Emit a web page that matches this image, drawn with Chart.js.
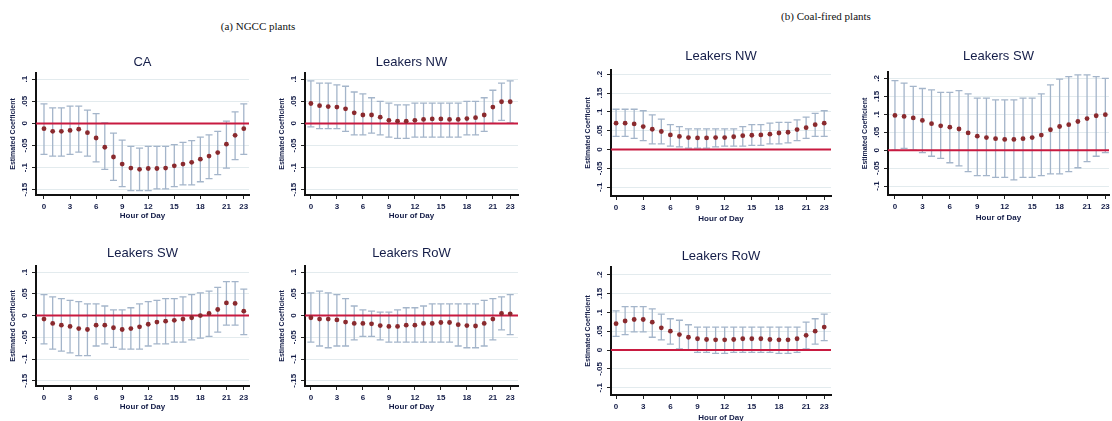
<!DOCTYPE html>
<html>
<head>
<meta charset="utf-8">
<script src="https://cdn.jsdelivr.net/npm/chart.js@4.4.0/dist/chart.umd.min.js"></script>
<style>
  body { margin: 0; width: 1112px; height: 421px; overflow: hidden; background: #fff; position: relative; }
  canvas { position: absolute; }
  .sup { position: absolute; font-family: "Liberation Serif", "DejaVu Serif", serif; font-size: 11px; color: #111; white-space: nowrap; transform: translate(-50%, -50%); }
</style>
</head>
<body>
<div class="sup" style="left:258px; top:26px">(a) NGCC plants</div>
<div class="sup" style="left:826px; top:16px">(b) Coal-fired plants</div>

<canvas id="caChart"></canvas>
<canvas id="nwChart"></canvas>
<canvas id="swChart"></canvas>
<canvas id="rowChart"></canvas>
<canvas id="coalNwChart"></canvas>
<canvas id="coalSwChart"></canvas>
<canvas id="coalRowChart"></canvas>

<script>
// Hour-of-day coefficients with 95% CI

const hours = [0,1,2,3,4,5,6,7,8,9,10,11,12,13,14,15,16,17,18,19,20,21,22,23];
const hourTicks = [0,3,6,9,12,15,18,21,23];
const ngccTicks = [-0.15,-0.1,-0.05,0,0.05,0.1];
const coalTicks = [-0.1,-0.05,0,0.05,0.1,0.15,0.2];

// (a) NGCC - CA
const caEst = [-0.012,-0.018,-0.018,-0.016,-0.013,-0.021,-0.033,-0.054,-0.076,-0.092,-0.101,-0.104,-0.102,-0.102,-0.101,-0.096,-0.092,-0.088,-0.081,-0.074,-0.066,-0.047,-0.027,-0.012];
const caHi  = [0.044,0.035,0.035,0.039,0.039,0.030,0.022,0.001,-0.022,-0.038,-0.052,-0.056,-0.052,-0.052,-0.052,-0.048,-0.043,-0.039,-0.031,-0.026,-0.018,0.005,0.026,0.044];
const caLo  = [-0.070,-0.074,-0.074,-0.070,-0.065,-0.074,-0.087,-0.104,-0.129,-0.143,-0.152,-0.152,-0.152,-0.148,-0.148,-0.143,-0.139,-0.139,-0.132,-0.125,-0.116,-0.101,-0.082,-0.070];

// (a) NGCC - Leakers NW
const nwEst = [0.045,0.040,0.038,0.037,0.033,0.024,0.019,0.019,0.014,0.007,0.005,0.005,0.007,0.009,0.010,0.010,0.009,0.009,0.011,0.013,0.019,0.037,0.049,0.049];
const nwHi  = [0.096,0.091,0.091,0.087,0.084,0.071,0.067,0.058,0.050,0.046,0.042,0.042,0.046,0.046,0.046,0.046,0.046,0.046,0.050,0.050,0.058,0.075,0.091,0.096];
const nwLo  = [-0.008,-0.012,-0.012,-0.012,-0.018,-0.026,-0.026,-0.022,-0.026,-0.031,-0.034,-0.034,-0.031,-0.031,-0.031,-0.031,-0.031,-0.031,-0.026,-0.026,-0.018,0.000,0.007,0.001];

// (a) NGCC - Leakers SW
const swEst = [-0.008,-0.018,-0.022,-0.025,-0.030,-0.032,-0.022,-0.022,-0.028,-0.032,-0.030,-0.026,-0.020,-0.015,-0.013,-0.011,-0.008,-0.005,0.000,0.005,0.014,0.029,0.028,0.010];
const swHi  = [0.048,0.043,0.039,0.035,0.032,0.027,0.027,0.022,0.013,0.013,0.018,0.027,0.032,0.035,0.039,0.039,0.043,0.048,0.052,0.056,0.065,0.078,0.078,0.061];
const swLo  = [-0.065,-0.077,-0.082,-0.086,-0.092,-0.092,-0.070,-0.065,-0.073,-0.077,-0.077,-0.077,-0.070,-0.065,-0.065,-0.061,-0.061,-0.056,-0.052,-0.048,-0.038,-0.022,-0.022,-0.044];

// (a) NGCC - Leakers RoW
const rowEst = [-0.005,-0.008,-0.008,-0.010,-0.015,-0.018,-0.018,-0.019,-0.023,-0.025,-0.025,-0.022,-0.022,-0.018,-0.018,-0.016,-0.016,-0.021,-0.023,-0.024,-0.018,-0.008,0.005,0.004];
const rowHi  = [0.052,0.056,0.052,0.048,0.039,0.022,0.013,0.010,0.008,0.008,0.013,0.018,0.018,0.022,0.027,0.027,0.027,0.027,0.027,0.027,0.035,0.039,0.043,0.048];
const rowLo  = [-0.061,-0.070,-0.074,-0.070,-0.070,-0.056,-0.048,-0.048,-0.056,-0.061,-0.061,-0.061,-0.061,-0.061,-0.061,-0.061,-0.061,-0.070,-0.074,-0.074,-0.070,-0.056,-0.033,-0.044];

// (b) Coal - Leakers NW
const coalNwEst = [0.070,0.070,0.068,0.061,0.054,0.048,0.039,0.035,0.032,0.031,0.031,0.032,0.032,0.034,0.037,0.038,0.039,0.041,0.044,0.046,0.053,0.058,0.066,0.070];
const coalNwHi  = [0.107,0.107,0.107,0.103,0.092,0.081,0.066,0.061,0.055,0.055,0.055,0.055,0.055,0.055,0.061,0.066,0.066,0.070,0.072,0.072,0.079,0.086,0.096,0.103];
const coalNwLo  = [0.035,0.035,0.030,0.024,0.015,0.015,0.009,0.007,0.004,0.004,0.004,0.007,0.009,0.009,0.009,0.011,0.011,0.015,0.015,0.018,0.024,0.030,0.035,0.035];

// (b) Coal - Leakers SW
const coalSwEst = [0.097,0.094,0.090,0.083,0.074,0.068,0.064,0.059,0.048,0.039,0.035,0.032,0.030,0.030,0.032,0.035,0.042,0.057,0.066,0.071,0.080,0.088,0.096,0.099];
const coalSwHi  = [0.194,0.187,0.178,0.172,0.168,0.161,0.161,0.166,0.157,0.145,0.145,0.140,0.140,0.140,0.145,0.145,0.157,0.182,0.198,0.205,0.210,0.210,0.205,0.200];
const coalSwLo  = [0.000,0.005,0.000,-0.007,-0.017,-0.023,-0.035,-0.044,-0.060,-0.071,-0.071,-0.076,-0.076,-0.083,-0.076,-0.076,-0.071,-0.066,-0.066,-0.060,-0.049,-0.032,-0.017,-0.007];

// (b) Coal - Leakers RoW
const coalRowEst = [0.070,0.077,0.081,0.081,0.074,0.059,0.050,0.041,0.034,0.030,0.028,0.027,0.027,0.028,0.030,0.030,0.030,0.028,0.027,0.027,0.030,0.039,0.050,0.061];
const coalRowHi  = [0.104,0.115,0.115,0.115,0.109,0.095,0.083,0.079,0.067,0.061,0.061,0.061,0.061,0.061,0.061,0.061,0.061,0.061,0.061,0.061,0.061,0.074,0.083,0.095];
const coalRowLo  = [0.036,0.041,0.048,0.048,0.034,0.027,0.016,0.003,0.000,-0.006,-0.006,-0.009,-0.009,-0.006,-0.006,-0.006,-0.006,-0.006,-0.009,-0.009,-0.006,0.003,0.016,0.025];

const textColor = '#141d48';
const family = '"Liberation Sans", Arial, sans-serif';
const TITLE_LH = 15.6;   // 13px * 1.2
const Y_W = 27;          // width reserved for the y axis

// error bars (rcap) + red zero line, drawn under the markers
const errorBars = {
  id: 'errorBars',
  beforeDatasetsDraw(chart) {
    const { ctx, chartArea, scales: { x, y } } = chart;
    const ds = chart.data.datasets[0];
    ctx.save();
    ctx.strokeStyle = '#a4b5ca';
    ctx.lineWidth = 1.3;
    ds.data.forEach((pt, i) => {
      const px = x.getPixelForValue(pt.x);
      const y1 = y.getPixelForValue(ds.errLo[i]);
      const y2 = y.getPixelForValue(ds.errHi[i]);
      ctx.beginPath();
      ctx.moveTo(px, y1); ctx.lineTo(px, y2);
      ctx.moveTo(px - 3.5, y1); ctx.lineTo(px + 3.5, y1);
      ctx.moveTo(px - 3.5, y2); ctx.lineTo(px + 3.5, y2);
      ctx.stroke();
    });
    const y0 = y.getPixelForValue(0);
    ctx.strokeStyle = '#c81a40';
    ctx.lineWidth = 2;
    ctx.beginPath();
    ctx.moveTo(chartArea.left, y0);
    ctx.lineTo(chartArea.right, y0);
    ctx.stroke();
    ctx.restore();
  }
};

function stataLabel(v) {
  if (Math.abs(v) < 1e-9) return '0';
  const s = String(Math.abs(+v.toFixed(3))).replace(/^0/, '');
  return (v < 0 ? '-' : '') + s;
}

function makePanel(id, title, est, lo, hi, yTicks, box) {
  const canvas = document.getElementById(id);
  const top = Math.round(box.titleY - TITLE_LH / 2);
  const left = box.L - Y_W;
  const w = box.R - left;
  const h = box.B + box.xh - top;
  canvas.width = w; canvas.height = h;
  canvas.style.left = left + 'px';
  canvas.style.top = top + 'px';
  canvas.style.width = w + 'px';
  canvas.style.height = h + 'px';

  new Chart(canvas, {
    type: 'scatter',
    data: {
      datasets: [{
        data: hours.map((hr, i) => ({ x: hr, y: est[i] })),
        errLo: lo,
        errHi: hi,
        pointRadius: 2.4,
        pointBackgroundColor: '#8a2a2e',
        pointBorderWidth: 0,
        showLine: false
      }]
    },
    options: {
      responsive: false,
      animation: false,
      devicePixelRatio: 1,
      layout: { padding: 0 },
      plugins: {
        legend: { display: false },
        tooltip: { enabled: false },
        title: {
          display: true,
          text: title,
          fullSize: false,
          color: textColor,
          font: { size: 13, family, weight: 'normal', lineHeight: 1.2 },
          padding: { top: 0, bottom: box.T - top - TITLE_LH }
        }
      },
      scales: {
        x: {
          type: 'linear',
          min: box.xMin, max: box.xMax,
          afterBuildTicks: s => { s.ticks = hourTicks.map(v => ({ value: v })); },
          afterFit: s => { s.height = box.xh; s.paddingLeft = 0; s.paddingRight = 0; },
          ticks: { color: textColor, font: { size: 8, family, weight: 'bold' }, padding: 3, maxRotation: 0, callback: v => String(v) },
          grid: { drawOnChartArea: false, drawTicks: true, tickLength: 4, tickColor: '#222', tickWidth: 1 },
          border: { display: true, color: '#111', width: 2 },
          title: { display: true, text: 'Hour of Day', color: textColor, font: { size: 8, family, weight: 'bold', lineHeight: 1.2 }, padding: { top: 0, bottom: box.xTitlePad } }
        },
        y: {
          min: box.yMin, max: box.yMax,
          afterBuildTicks: s => { s.ticks = yTicks.map(v => ({ value: v })); },
          afterFit: s => { s.width = Y_W; s.paddingTop = 0; s.paddingBottom = 0; },
          ticks: { color: textColor, font: { size: 8, family, weight: 'bold' }, padding: 0, minRotation: 90, maxRotation: 90, crossAlign: 'center', callback: v => stataLabel(v) },
          grid: { color: '#e3ebee', lineWidth: 1, drawTicks: true, tickLength: 4, tickColor: '#222', tickWidth: 1 },
          border: { display: true, color: '#111', width: 2 },
          title: { display: true, text: 'Estimated Coefficient', color: textColor, font: { size: 7, family, weight: 'bold', lineHeight: 1.2 }, padding: 0 }
        }
      }
    },
    plugins: [errorBars]
  });
}

const ngccY = { yMin: -0.162, yMax: 0.114, xh: 28, xTitlePad: 2 };
makePanel('caChart', 'CA', caEst, caLo, caHi, ngccTicks,
  { ...ngccY, L: 36, R: 253, T: 73, B: 195, titleY: 63, xMin: -0.92, xMax: 23.6 });
makePanel('nwChart', 'Leakers NW', nwEst, nwLo, nwHi, ngccTicks,
  { ...ngccY, L: 305, R: 522, T: 73, B: 195, titleY: 63, xMin: -0.68, xMax: 23.9 });
makePanel('swChart', 'Leakers SW', swEst, swLo, swHi, ngccTicks,
  { ...ngccY, L: 36, R: 253, T: 266, B: 386, titleY: 254, xMin: -0.92, xMax: 23.6 });
makePanel('rowChart', 'Leakers RoW', rowEst, rowLo, rowHi, ngccTicks,
  { ...ngccY, L: 305, R: 522, T: 266, B: 386, titleY: 254, xMin: -0.68, xMax: 23.9 });

makePanel('coalNwChart', 'Leakers NW', coalNwEst, coalNwLo, coalNwHi, coalTicks,
  { L: 611, R: 835, T: 70, B: 196, titleY: 57, xMin: -0.56, xMax: 23.75, yMin: -0.123, yMax: 0.211, xh: 31, xTitlePad: 3 });
makePanel('coalSwChart', 'Leakers SW', coalSwEst, coalSwLo, coalSwHi, coalTicks,
  { L: 888, R: 1113, T: 72, B: 195, titleY: 57, xMin: -0.76, xMax: 23.4, yMin: -0.125, yMax: 0.218, xh: 31, xTitlePad: 3 });
makePanel('coalRowChart', 'Leakers RoW', coalRowEst, coalRowLo, coalRowHi, coalTicks,
  { L: 611, R: 835, T: 267, B: 395, titleY: 257, xMin: -0.56, xMax: 23.75, yMin: -0.119, yMax: 0.220, xh: 31, xTitlePad: 3 });
</script>
</body>
</html>
